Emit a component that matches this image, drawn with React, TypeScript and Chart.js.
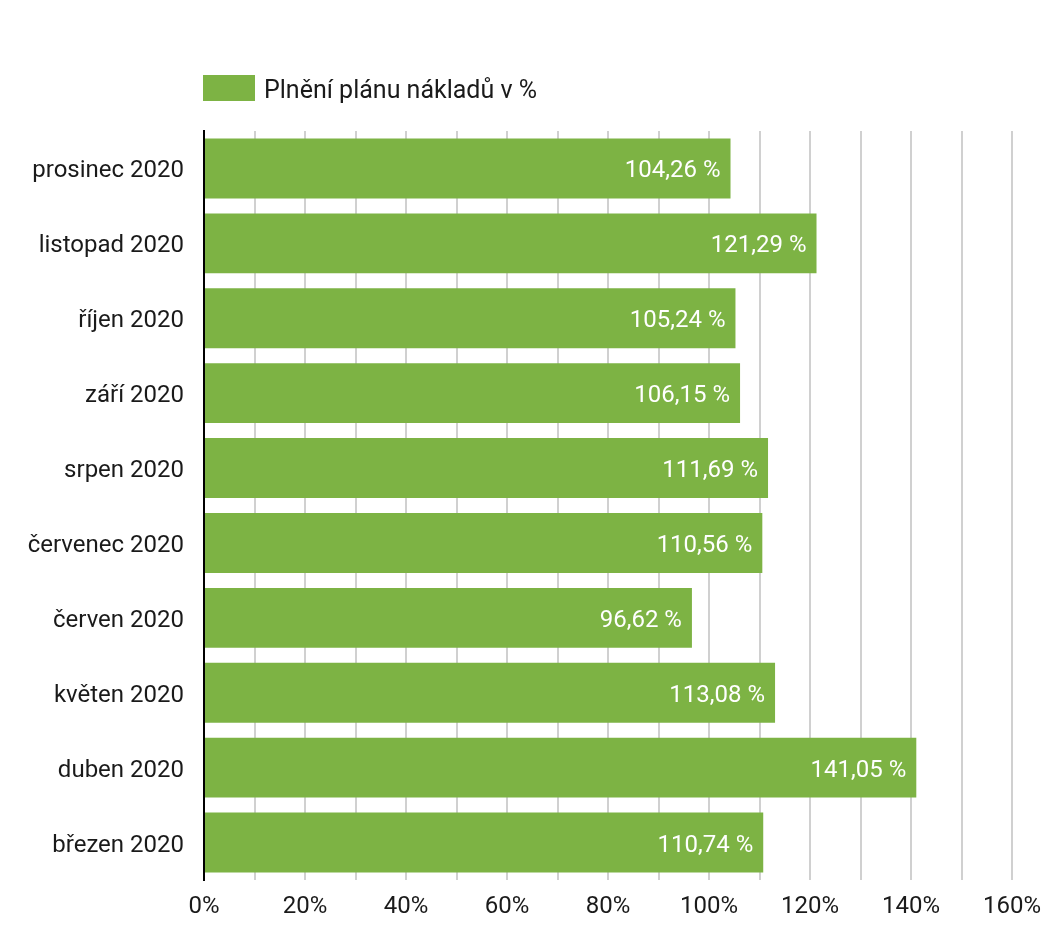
import React, { useEffect, useRef } from "react";
import { Chart, registerables } from "chart.js";

Chart.register(...registerables);

const categories = [
  "prosinec 2020",
  "listopad 2020",
  "říjen 2020",
  "září 2020",
  "srpen 2020",
  "červenec 2020",
  "červen 2020",
  "květen 2020",
  "duben 2020",
  "březen 2020",
];
const values = [104.26, 121.29, 105.24, 106.15, 111.69, 110.56, 96.62, 113.08, 141.05, 110.74];
const seriesLabel = "Plnění plánu nákladů v %";
const barColor = "#7db344";
const FONT = "Roboto, 'Noto Sans', sans-serif";
const FONT_SIZE = 24;

const formatValue = (v: number) => v.toFixed(2).replace(".", ",") + " %";

const valueLabelPlugin = {
  id: "valueLabels",
  afterDatasetsDraw(chart: any) {
    const ctx = chart.ctx;
    const meta = chart.getDatasetMeta(0);
    const data = chart.data.datasets[0].data as number[];
    ctx.save();
    ctx.font = `${FONT_SIZE}px ${FONT}`;
    ctx.fillStyle = "#ffffff";
    ctx.textAlign = "right";
    ctx.textBaseline = "middle";
    meta.data.forEach((el: any, i: number) => {
      ctx.fillText(formatValue(data[i]), el.x - 10, el.y + 3);
    });
    ctx.restore();
  },
};

const legendPlugin = {
  id: "customLegend",
  afterDraw(chart: any) {
    const ctx = chart.ctx;
    const ds = chart.data.datasets[0];
    const left = chart.chartArea.left - 1;
    const boxW = 52;
    const boxH = 26;
    const top = 75;
    ctx.save();
    ctx.fillStyle = ds.backgroundColor;
    ctx.fillRect(left, top, boxW, boxH);
    ctx.font = `25px ${FONT}`;
    ctx.fillStyle = "#1a1a1a";
    ctx.textAlign = "left";
    ctx.textBaseline = "alphabetic";
    ctx.fillText(ds.label, left + boxW + 9, top + 23);
    ctx.restore();
  },
};

export default function App() {
  const canvasRef = useRef<HTMLCanvasElement | null>(null);

  useEffect(() => {
    document.body.style.margin = "0";
    const canvas = canvasRef.current;
    if (!canvas) return;
    const chart = new Chart(canvas, {
      type: "bar",
      data: {
        labels: categories,
        datasets: [
          {
            label: seriesLabel,
            data: values,
            backgroundColor: barColor,
            barPercentage: 0.8,
            categoryPercentage: 1.0,
          },
        ],
      },
      options: {
        indexAxis: "y",
        responsive: false,
        animation: false,
        devicePixelRatio: 1,
        layout: { padding: { top: 131, right: 33, bottom: 0, left: 0 } },
        plugins: {
          legend: { display: false },
          tooltip: { enabled: false },
        },
        scales: {
          x: {
            min: 0,
            max: 160,
            ticks: {
              stepSize: 10,
              autoSkip: false,
              maxRotation: 0,
              padding: 13,
              color: "#1a1a1a",
              font: { family: FONT, size: FONT_SIZE },
              callback: (v: any) => (Number(v) % 20 === 0 ? `${v}%` : ""),
            },
            grid: { color: "#d0d0d0", lineWidth: 2, drawTicks: false },
            border: { display: false },
            afterFit: (scale: any) => {
              scale.height = 60;
              scale.paddingRight = 0;
              scale.paddingLeft = 0;
            },
          },
          y: {
            ticks: {
              padding: 20,
              labelOffset: 3,
              color: "#1a1a1a",
              font: { family: FONT, size: FONT_SIZE },
            },
            grid: { display: false, drawTicks: false },
            border: { display: true, color: "#000000", width: 2 },
            afterFit: (scale: any) => {
              scale.width = 204;
              scale.paddingTop = 0;
              scale.paddingBottom = 0;
            },
          },
        },
      },
      plugins: [valueLabelPlugin, legendPlugin],
    });
    return () => chart.destroy();
  }, []);

  return (
    <div style={{ position: "absolute", left: 0, top: 0, width: 1045, height: 940, background: "#fff" }}>
      <canvas ref={canvasRef} width={1045} height={940} style={{ width: 1045, height: 940 }} />
    </div>
  );
}
